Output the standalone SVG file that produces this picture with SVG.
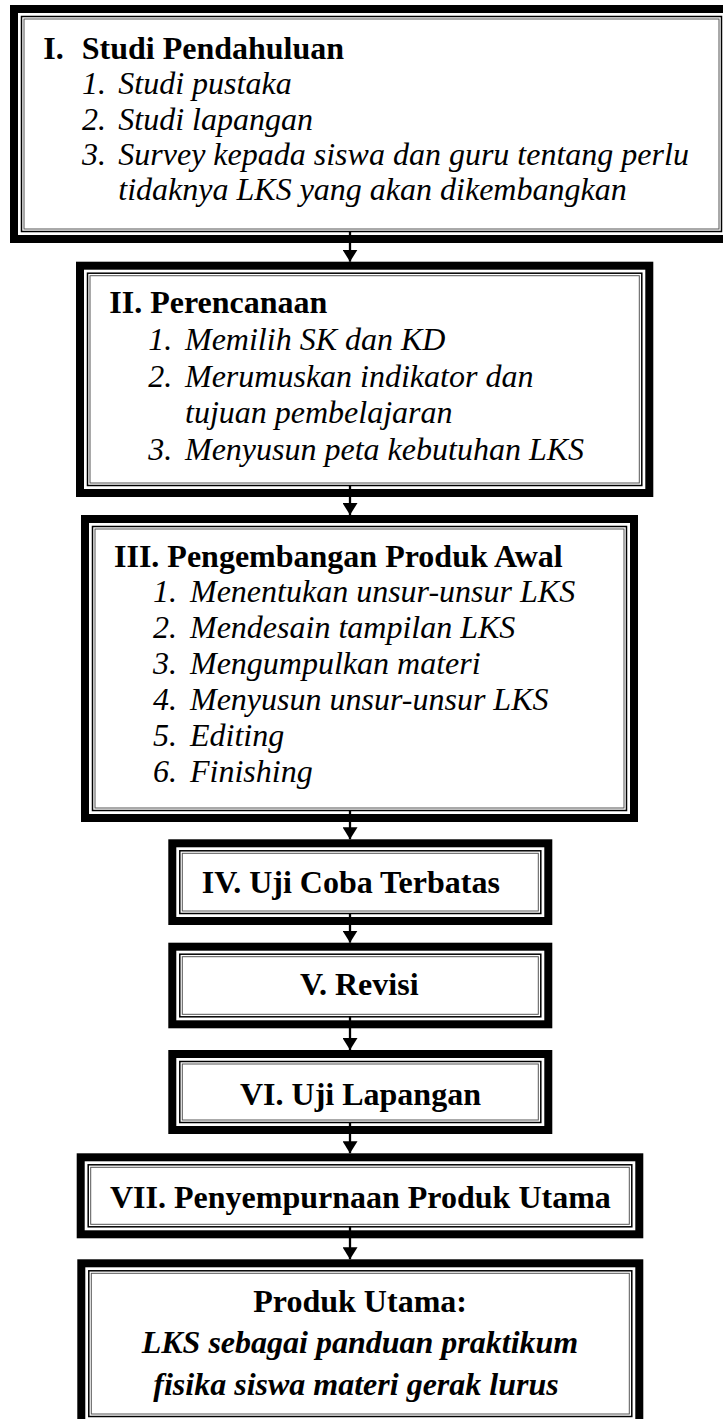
<svg xmlns="http://www.w3.org/2000/svg" width="723" height="1419" viewBox="0 0 723 1419">
<style>
text{font-family:"Liberation Serif","Times New Roman",serif;font-size:32px;fill:#000}
.b{font-weight:bold}
.i{font-style:italic}
.bi{font-weight:bold;font-style:italic}
.thick{fill:#fff;stroke:#000;stroke-width:8}
.thin1{fill:none;stroke:#000;stroke-width:1.5}
.thin2{fill:none;stroke:#555;stroke-width:1}
.conn{stroke:#000;stroke-width:2.3;fill:none;marker-end:url(#arrow)}
</style>
<defs>
<marker id="arrow" markerUnits="userSpaceOnUse" viewBox="0 0 12 15" refX="12" refY="7.5" markerWidth="12" markerHeight="15" orient="auto">
<path d="M0,0 L12,7.5 L0,15 Z" fill="#000"/>
</marker>
</defs>
<rect x="0" y="0" width="723" height="1419" fill="#fff"/>

<g id="node1">
<rect class="thick" x="14" y="9" width="715" height="230"/>
<rect class="thin1" x="21.5" y="16.5" width="700" height="215"/>
<rect class="thin2" x="24" y="19" width="695" height="210"/>
<text class="b" x="43.3" y="59">I.</text>
<text class="b" x="81.7" y="59">Studi Pendahuluan</text>
<text class="i" x="82" y="94.3">1.</text>
<text class="i" x="118.3" y="94.3">Studi pustaka</text>
<text class="i" x="82" y="129.5">2.</text>
<text class="i" x="118.3" y="129.5">Studi lapangan</text>
<text class="i" x="82" y="164.7">3.</text>
<text class="i" x="118.3" y="164.7">Survey kepada siswa dan guru tentang perlu</text>
<text class="i" x="118.3" y="200">tidaknya LKS yang akan dikembangkan</text>
</g>

<g id="node2">
<rect class="thick" x="80" y="265.7" width="569.3" height="227.3"/>
<rect class="thin1" x="87.5" y="273.2" width="554.3" height="212.3"/>
<rect class="thin2" x="90" y="275.7" width="549.3" height="207.3"/>
<text class="b" x="109.3" y="313.3">II. Perencanaan</text>
<text class="i" x="148.3" y="350">1.</text>
<text class="i" x="185" y="350">Memilih SK dan KD</text>
<text class="i" x="148.3" y="386.7">2.</text>
<text class="i" x="185" y="386.7">Merumuskan indikator dan</text>
<text class="i" x="185" y="423">tujuan pembelajaran</text>
<text class="i" x="148.3" y="460">3.</text>
<text class="i" x="185" y="460">Menyusun peta kebutuhan LKS</text>
</g>

<g id="node3">
<rect class="thick" x="85" y="519" width="549" height="299"/>
<rect class="thin1" x="92.5" y="526.5" width="534" height="284"/>
<rect class="thin2" x="95" y="529" width="529" height="279"/>
<text class="b" x="114" y="566.7">III. Pengembangan Produk Awal</text>
<text class="i" x="153" y="601.7">1.</text>
<text class="i" x="190" y="601.7">Menentukan unsur-unsur LKS</text>
<text class="i" x="153" y="637.7">2.</text>
<text class="i" x="190" y="637.7">Mendesain tampilan LKS</text>
<text class="i" x="153" y="673.7">3.</text>
<text class="i" x="190" y="673.7">Mengumpulkan materi</text>
<text class="i" x="153" y="709.7">4.</text>
<text class="i" x="190" y="709.7">Menyusun unsur-unsur LKS</text>
<text class="i" x="153" y="745.7">5.</text>
<text class="i" x="190" y="745.7">Editing</text>
<text class="i" x="153" y="781.7">6.</text>
<text class="i" x="190" y="781.7">Finishing</text>
</g>

<g id="node4">
<rect class="thick" x="172.3" y="843.3" width="376" height="77.7"/>
<rect class="thin1" x="179.8" y="850.8" width="361" height="62.7"/>
<rect class="thin2" x="182.3" y="853.3" width="356" height="57.7"/>
<text class="b" x="201.7" y="893.3">IV. Uji Coba Terbatas</text>
</g>

<g id="node5">
<rect class="thick" x="172.3" y="946.7" width="376" height="77.6"/>
<rect class="thin1" x="179.8" y="954.2" width="361" height="62.6"/>
<rect class="thin2" x="182.3" y="956.7" width="356" height="57.6"/>
<text class="b" x="300" y="995">V. Revisi</text>
</g>

<g id="node6">
<rect class="thick" x="172.3" y="1054" width="376" height="76"/>
<rect class="thin1" x="179.8" y="1061.5" width="361" height="61"/>
<rect class="thin2" x="182.3" y="1064" width="356" height="56"/>
<text class="b" x="240" y="1105">VI. Uji Lapangan</text>
</g>

<g id="node7">
<rect class="thick" x="80.7" y="1157.3" width="558.6" height="77"/>
<rect class="thin1" x="88.2" y="1164.8" width="543.6" height="62"/>
<rect class="thin2" x="90.7" y="1167.3" width="538.6" height="57"/>
<text class="b" x="110" y="1208.3">VII. Penyempurnaan Produk Utama</text>
</g>

<g id="node8">
<rect class="thick" x="81.3" y="1263.3" width="558" height="160.7"/>
<rect class="thin1" x="88.8" y="1270.8" width="543" height="145.7"/>
<rect class="thin2" x="91.3" y="1273.3" width="538" height="140.7"/>
<text class="b" x="253.3" y="1311.7">Produk Utama:</text>
<text class="bi" x="141.7" y="1353.3">LKS sebagai panduan praktikum</text>
<text class="bi" x="153.3" y="1395">fisika siswa materi gerak lurus</text>
</g>

<g id="connectors">
<line class="conn" x1="350" y1="231" x2="350" y2="261.7"/>
<line class="conn" x1="350" y1="485" x2="350" y2="515"/>
<line class="conn" x1="350" y1="810" x2="350" y2="839.3"/>
<line class="conn" x1="350" y1="913" x2="350" y2="942.7"/>
<line class="conn" x1="350" y1="1016" x2="350" y2="1050"/>
<line class="conn" x1="350" y1="1122" x2="350" y2="1153.3"/>
<line class="conn" x1="350" y1="1226" x2="350" y2="1259.3"/>
</g>
</svg>
